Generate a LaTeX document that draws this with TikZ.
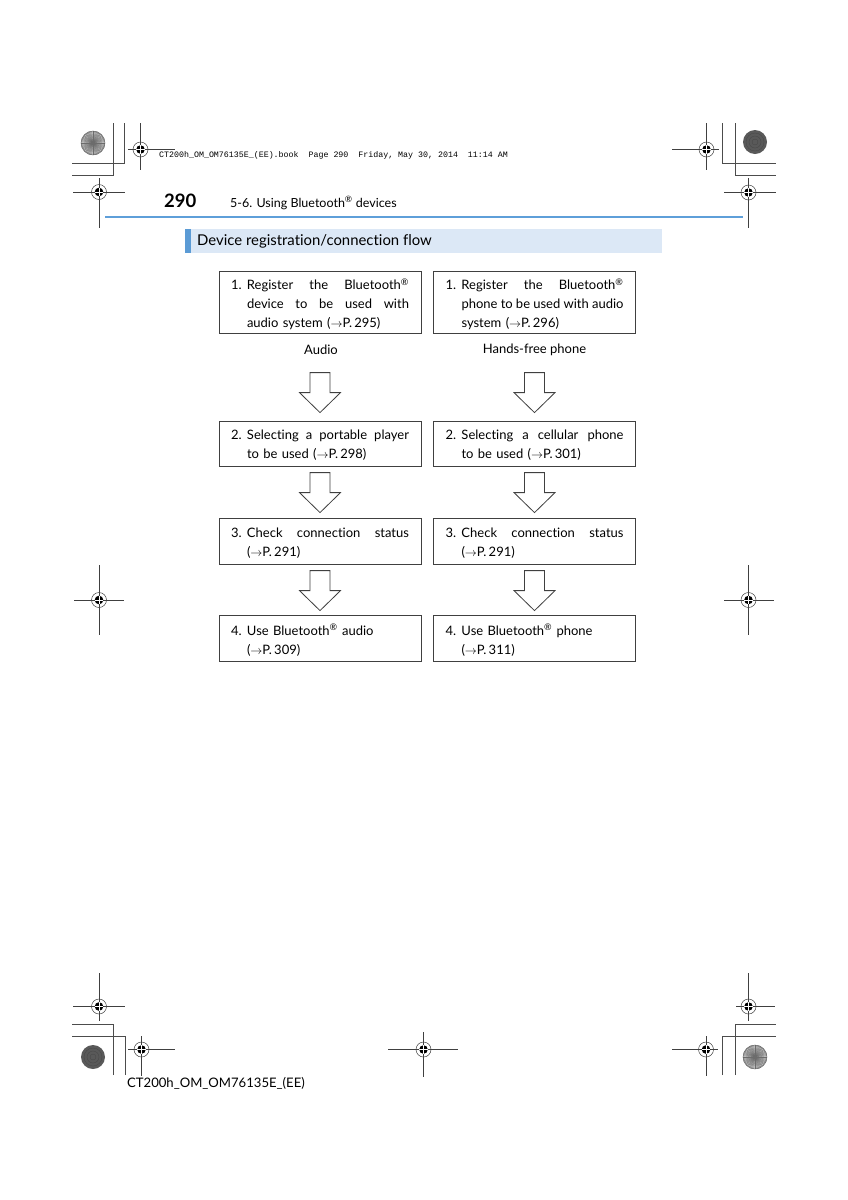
\documentclass[tikz,border=0pt]{standalone}
\usepackage{fontspec}
\setmainfont{Lato}[Ligatures=NoCommon]
\newfontfamily\monofont{Liberation Mono}
\usetikzlibrary{calc}
\definecolor{barblue}{HTML}{DCE8F6}
\definecolor{stripblue}{HTML}{5B9BD5}
\definecolor{ruleblue}{HTML}{5E9FD9}
\newcommand{\numjust}[2]{\makebox[16pt][l]{#1}\hbox to 162pt{#2}}
\newcommand{\numplain}[2]{\makebox[16pt][l]{#1}#2}
\newcommand{\injust}[1]{\hspace*{16pt}\hbox to 162pt{#1}}
\newcommand{\inplain}[1]{\hspace*{16pt}#1}
\newcommand{\gap}{\hspace{0pt plus 1fil}}
\newcommand{\regd}{\textsuperscript{\textregistered}}
\newcommand{\pref}[1]{($\rightarrow$P.\,#1)}
\newcommand{\boxtext}[1]{\raisebox{-2pt}[\height][\depth]{\parbox{178pt}{\raggedright #1}}}
\newcommand{\crossmark}[6]{%
  \draw[markline] (#3,#2) -- (#4,#2) (#1,#5) -- (#1,#6);
  \draw[markline] (#1,#2) circle (7.5pt);
  \fill[black] (#1,#2) circle (4.3pt);
  \draw[white, line width=0.5pt] (#1,#2) ++(-4.3,0) -- ++(8.6,0) (#1,#2) ++(0,-4.3) -- ++(0,8.6);
}
\newcommand{\sunburst}[2]{%
  \fill[gray!45] (#1,#2) circle (12pt);
  \foreach \a in {0,6,...,354} \draw[gray!85!black, line width=0.35pt] (#1,#2) -- ++(\a:12pt);
  \draw[gray!70!black, line width=0.4pt] (#1,#2) circle (12pt);
}
\newcommand{\darkdisc}[2]{%
  \fill[gray!70!black] (#1,#2) circle (12pt);
  \foreach \r in {3,6,9} \draw[gray!55!black, line width=0.3pt] (#1,#2) circle (\r pt);
}
\tikzset{
  markline/.style={black!75, line width=0.5pt},
  cropline/.style={black!70, line width=0.6pt},
  box/.style={draw=black!75, line width=0.8pt, inner xsep=12pt, inner ysep=0pt,
    text width=178pt, align=left, font=\fontsize{13}{19}\selectfont},
  lab/.style={inner sep=0pt, font=\fontsize{13}{16}\selectfont},
  arrowline/.style={draw=black!75, line width=0.8pt, fill=white},
  pics/downarrow/.style={code={
    \draw[arrowline] (-10,-40) -- (10,-40) -- (10,-20) -- (20.5,-20) -- (0,0)
      -- (-20.5,-20) -- (-10,-20) -- cycle;}}
}
\begin{document}
\begin{tikzpicture}[x=1pt, y=-1pt]
\useasboundingbox (0,0) rectangle (848,1200);
\fill[white] (0,0) rectangle (848,1200);

% printer's marks
\sunburst{93}{143}
\darkdisc{755}{142}
\darkdisc{93}{1057}
\sunburst{755}{1057}
\draw[cropline] (113,123) -- (113,175.5) -- (72,175.5);
\draw[cropline] (124.5,123) -- (124.5,163.5) -- (72,163.5);
\draw[cropline] (722.5,123) -- (722.5,163.5) -- (776,163.5);
\draw[cropline] (735,123) -- (735,175.5) -- (776,175.5);
\draw[cropline] (113,1075) -- (113,1024) -- (72,1024);
\draw[cropline] (125,1075) -- (125,1036) -- (72,1036);
\draw[cropline] (735,1075) -- (735,1024) -- (776,1024);
\draw[cropline] (722,1075) -- (722,1036) -- (776,1036);

\crossmark{140.5}{149.5}{128}{175}{123}{170}
\crossmark{99}{192}{73}{125}{178}{228}
\crossmark{706.5}{149.5}{672}{719}{123}{170}
\crossmark{748.5}{192.5}{724}{776}{178}{228}
\crossmark{99}{600}{74}{124}{565}{635}
\crossmark{748.5}{600}{724}{774}{565}{635}
\crossmark{99}{1006.5}{73}{125}{973}{1021}
\crossmark{141.5}{1049.5}{128}{175}{1036}{1076}
\crossmark{423.5}{1049.5}{388}{458}{1032}{1077}
\crossmark{706}{1049.5}{672}{718}{1036}{1076}
\crossmark{748.5}{1006.5}{736}{775}{973}{1021}

\node[anchor=west, inner sep=0pt, font=\monofont\fontsize{8.3}{10}\selectfont] (job) at (159,155)
  {CT200h\_OM\_OM76135E\_(EE).book\ \ Page 290\ \ Friday, May 30, 2014\ \ 11:14 AM};

% running head
\node[anchor=west, inner sep=0pt, font=\fontsize{18.5}{21}\bfseries\selectfont] (pnum) at (164,201) {290};
\node[anchor=west, inner sep=0pt, font=\fontsize{12.5}{15}\selectfont] (chap) at (230,203) {5-6. Using Bluetooth\regd{} devices};
\draw[ruleblue, line width=2pt] (105,216.5) -- (743,216.5);

% section bar
\fill[barblue] (185,229) rectangle (662,253);
\fill[stripblue] (185,229) rectangle (191,253);
\node[anchor=west, inner sep=0pt, font=\fontsize{14.9}{18}\selectfont] (title) at (197,241) {Device registration/connection flow};

% boxes
\node[box, minimum height=62pt] (b1L) at (320,302) {\boxtext{%
  \numjust{1.}{Register\gap the\gap Bluetooth\regd}\\
  \injust{device\gap to\gap be\gap used\gap with}\\
  \inplain{audio system \pref{295}}}};
\node[box, minimum height=62pt] (b1R) at (534.5,302) {\boxtext{%
  \numjust{1.}{Register\gap the\gap Bluetooth\regd}\\
  \injust{phone\gap to\gap be\gap used\gap with\gap audio}\\
  \inplain{system \pref{296}}}};
\node[lab] (labA) at (321,350) {Audio};
\node[lab] (labH) at (534.5,350) {Hands-free phone};

\node[box, minimum height=45pt] (b2L) at (320,443.5) {\boxtext{%
  \numjust{2.}{Selecting\gap a\gap portable\gap player}\\
  \inplain{to be used \pref{298}}}};
\node[box, minimum height=45pt] (b2R) at (534.5,443.5) {\boxtext{%
  \numjust{2.}{Selecting\gap a\gap cellular\gap phone}\\
  \inplain{to be used \pref{301}}}};

\node[box, minimum height=46pt] (b3L) at (320,541) {\boxtext{%
  \numjust{3.}{Check\gap connection\gap status}\\
  \inplain{\pref{291}}}};
\node[box, minimum height=46pt] (b3R) at (534.5,541) {\boxtext{%
  \numjust{3.}{Check\gap connection\gap status}\\
  \inplain{\pref{291}}}};

\node[box, minimum height=46pt] (b4L) at (320,638) {\boxtext{%
  \numplain{4.}{Use Bluetooth\regd{} audio}\\
  \inplain{\pref{309}}}};
\node[box, minimum height=46pt] (b4R) at (534.5,638) {\boxtext{%
  \numplain{4.}{Use Bluetooth\regd{} phone}\\
  \inplain{\pref{311}}}};

% hollow arrows
\pic at ($(b2L.north)+(0,-8)$) {downarrow};
\pic at ($(b2R.north)+(0,-8)$) {downarrow};
\pic at ($(b3L.north)+(0,-5)$) {downarrow};
\pic at ($(b3R.north)+(0,-5)$) {downarrow};
\pic at ($(b4L.north)+(0,-4)$) {downarrow};
\pic at ($(b4R.north)+(0,-4)$) {downarrow};

% footer
\node[anchor=west, inner sep=0pt, font=\fontsize{13.1}{16}\selectfont] (foot) at (127,1083) {CT200h\_OM\_OM76135E\_(EE)};
\end{tikzpicture}
\end{document}
